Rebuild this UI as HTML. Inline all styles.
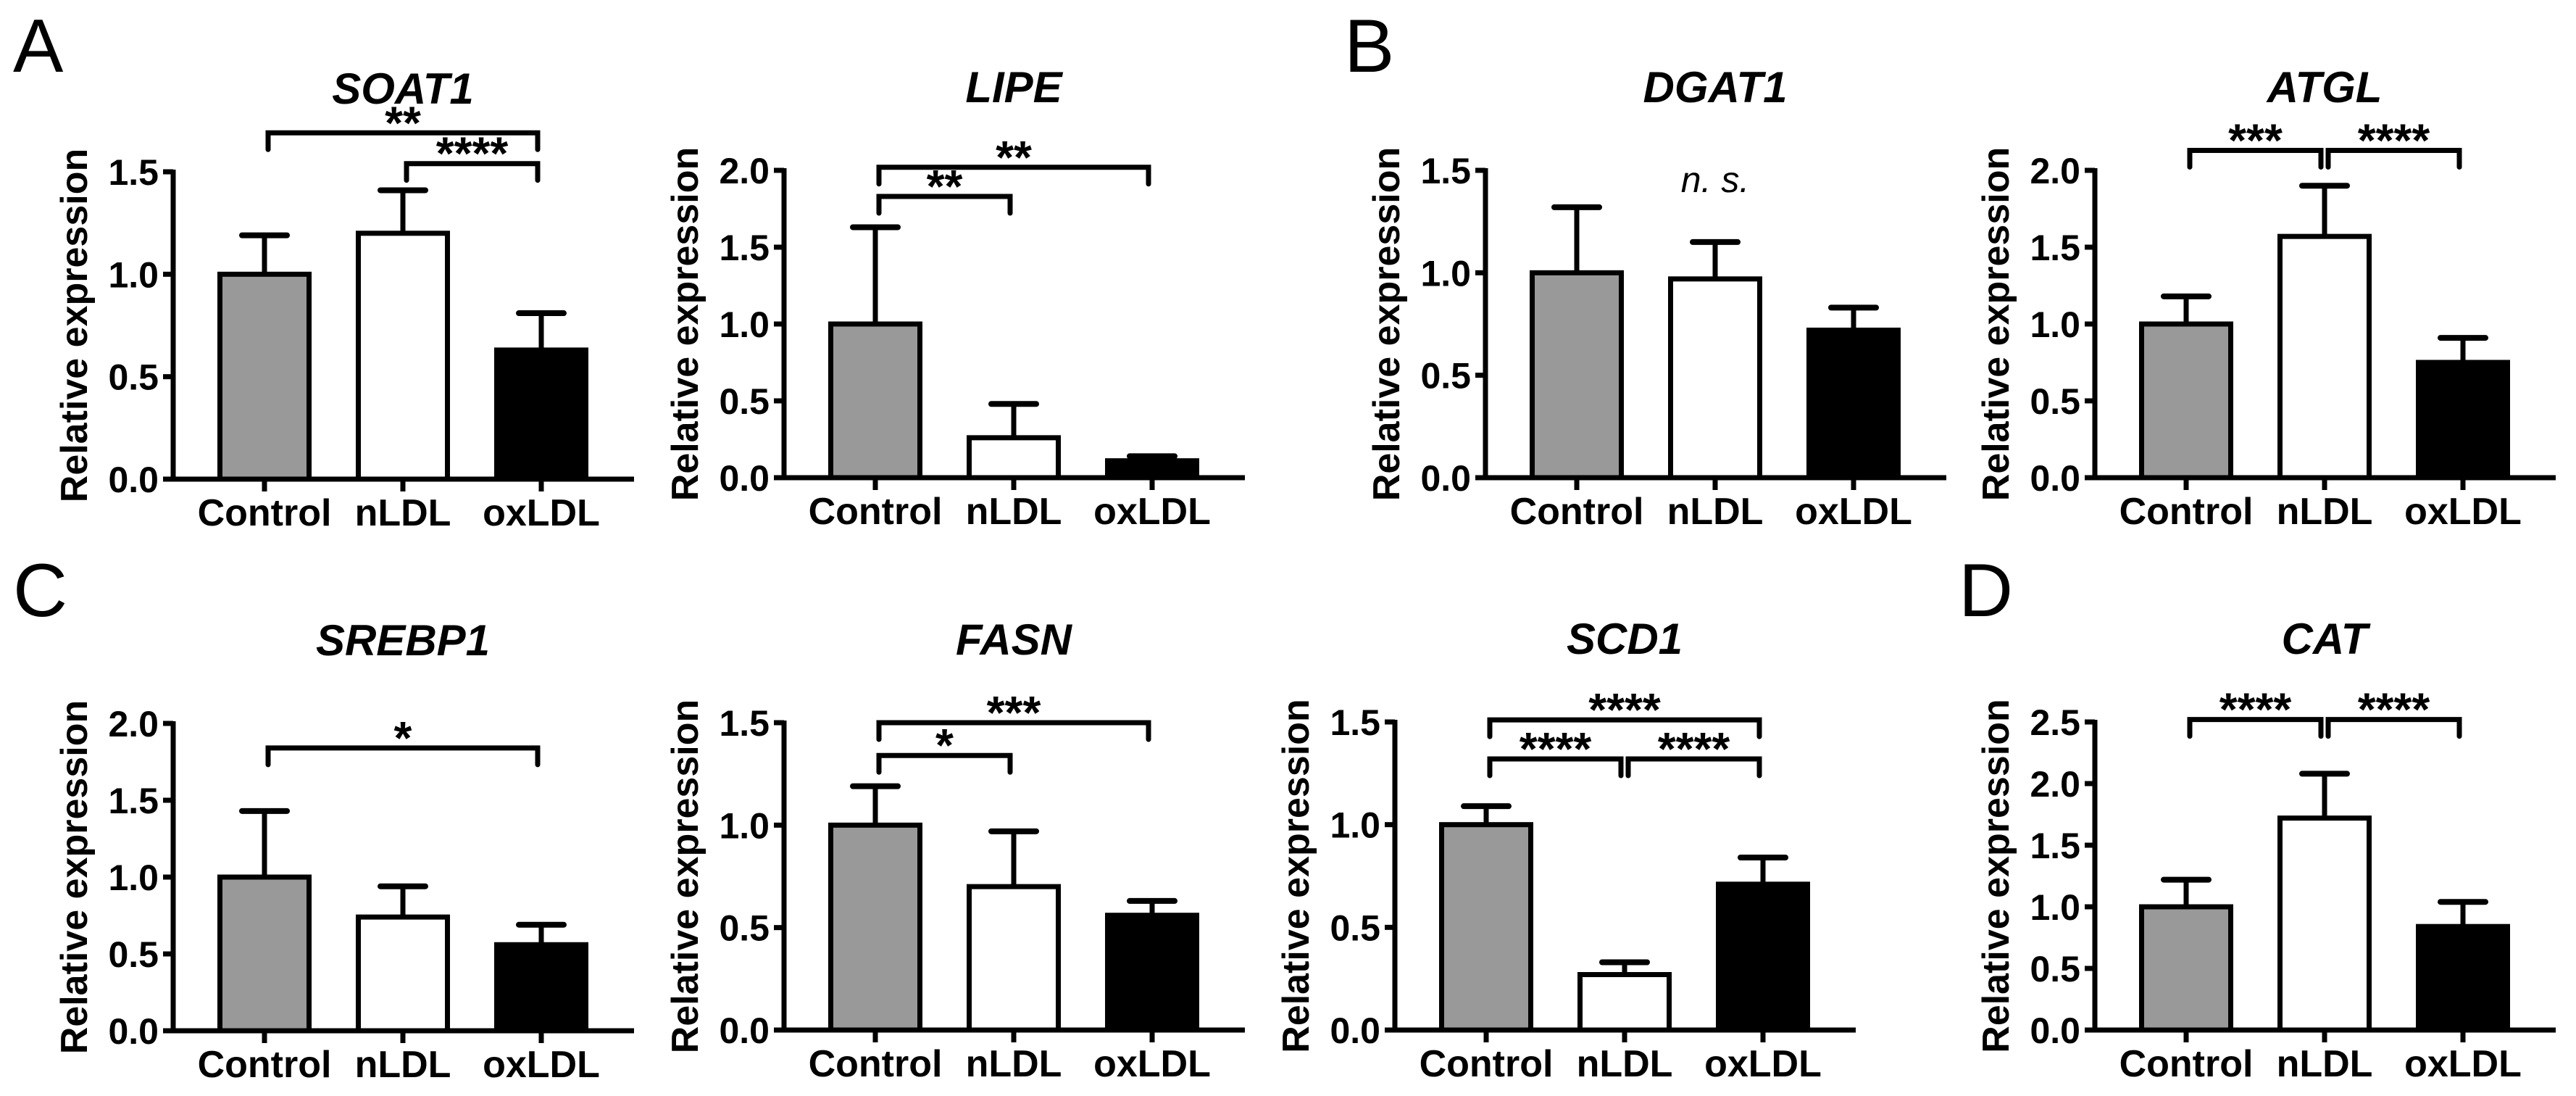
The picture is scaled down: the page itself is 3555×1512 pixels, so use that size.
<!DOCTYPE html>
<html><head><meta charset="utf-8"><style>
html,body{margin:0;padding:0;background:#fff;}
svg{display:block;font-family:"Liberation Sans",Arial,sans-serif;}
</style></head>
<body>
<svg id="fig" width="3555" height="1512" viewBox="0 0 3555 1512" xmlns="http://www.w3.org/2000/svg">
<rect width="3555" height="1512" fill="#fff"/>
<text x="18" y="99" font-size="104">A</text>
<text x="1855" y="99" font-size="104">B</text>
<text x="18" y="850" font-size="104">C</text>
<text x="2703" y="850" font-size="104">D</text>
</svg>
<script>
const categories = ['Control', 'nLDL', 'oxLDL'];
const barFills = ['#999999', '#ffffff', '#000000'];

const soat1Means = [1.0, 1.20, 0.63];
const soat1Errors = [0.19, 0.21, 0.18];
const soat1Ticks = ['0.0', '0.5', '1.0', '1.5'];
const soat1Sig = [[0, 2, 1.69, '**'], [1, 2, 1.54, '****']];

const lipeMeans = [1.0, 0.26, 0.11];
const lipeErrors = [0.63, 0.22, 0.03];
const lipeTicks = ['0.0', '0.5', '1.0', '1.5', '2.0'];
const lipeSig = [[0, 1, 1.83, '**'], [0, 2, 2.02, '**']];

const dgat1Means = [1.0, 0.97, 0.72];
const dgat1Errors = [0.32, 0.18, 0.11];
const dgat1Ticks = ['0.0', '0.5', '1.0', '1.5'];
const dgat1Sig = [];

const atglMeans = [1.0, 1.57, 0.75];
const atglErrors = [0.18, 0.33, 0.16];
const atglTicks = ['0.0', '0.5', '1.0', '1.5', '2.0'];
const atglSig = [[0, 1, 2.13, '***'], [1, 2, 2.13, '****']];

const srebp1Means = [1.0, 0.74, 0.56];
const srebp1Errors = [0.43, 0.20, 0.13];
const srebp1Ticks = ['0.0', '0.5', '1.0', '1.5', '2.0'];
const srebp1Sig = [[0, 2, 1.84, '*']];

const fasnMeans = [1.0, 0.70, 0.56];
const fasnErrors = [0.19, 0.27, 0.07];
const fasnTicks = ['0.0', '0.5', '1.0', '1.5'];
const fasnSig = [[0, 1, 1.34, '*'], [0, 2, 1.50, '***']];

const scd1Means = [1.0, 0.27, 0.71];
const scd1Errors = [0.09, 0.06, 0.13];
const scd1Ticks = ['0.0', '0.5', '1.0', '1.5'];
const scd1Sig = [[0, 2, 1.51, '****'], [0, 1, 1.32, '****'], [1, 2, 1.32, '****']];

const catMeans = [1.0, 1.72, 0.84];
const catErrors = [0.22, 0.36, 0.20];
const catTicks = ['0.0', '0.5', '1.0', '1.5', '2.0', '2.5'];
const catSig = [[0, 1, 2.52, '****'], [1, 2, 2.52, '****']];

const NS = 'http://www.w3.org/2000/svg';
const svg = document.getElementById('fig');
function mk(tag, attrs, parent) {
  const e = document.createElementNS(NS, tag);
  for (const k in attrs) e.setAttribute(k, attrs[k]);
  (parent || svg).appendChild(e);
  return e;
}

function drawPanel(key, title, axisX, base, top, ticks, means, errors, sig, ns) {
  const g = mk('g', {});
  
  
  const maxV = parseFloat(ticks[ticks.length - 1]);
  const yScale = v => base - (v / maxV) * (base - top);
  const xScale = i => axisX + 126 + i * 191;

  const t = mk('text', {x: axisX + 126 + 191, y: top - 94, 'font-size': 60, 'font-weight': 'bold', 'font-style': 'italic', 'text-anchor': 'middle'}, g);
  t.textContent = title;
  
  

  const cy = (top + base) / 2;
  const yt = mk('text', {x: 0, y: 0, 'font-size': 52, 'font-weight': 'bold', 'text-anchor': 'middle', transform: 'translate(' + (axisX - 119) + ',' + cy + ') rotate(-90)'}, g);
  yt.textContent = 'Relative expression';
  
  

  means.forEach((m, i) => {
    const c = xScale(i);
    const yTop = yScale(m);
    const yErr = yScale(m + errors[i]);
    const el = mk('line', {x1: c, x2: c, y1: yTop, y2: yErr, stroke: '#000', 'stroke-width': 7}, g);
    
    
    const cap = mk('line', {x1: c - 31, x2: c + 31, y1: yErr, y2: yErr, stroke: '#000', 'stroke-width': 8, 'stroke-linecap': 'round'}, g);
    
    
    const r = mk('rect', {x: c - 61.5, y: yTop, width: 123, height: Math.max(0, base - yTop), fill: barFills[i], stroke: '#000', 'stroke-width': 7}, g);
    
    
  });

  const ya = mk('line', {x1: axisX, x2: axisX, y1: top - 3, y2: base + 3, stroke: '#000', 'stroke-width': 7}, g);
  
  
  const xa = mk('line', {x1: axisX - 14, x2: axisX + 636, y1: base, y2: base, stroke: '#000', 'stroke-width': 7}, g);
  
  

  ticks.forEach(tk => {
    const y = yScale(parseFloat(tk));
    const tl = mk('line', {x1: axisX - 14, x2: axisX, y1: y, y2: y, stroke: '#000', 'stroke-width': 7}, g);
    
    
    const tx = mk('text', {x: axisX - 20, y: y + 18, 'font-size': 50, 'font-weight': 'bold', 'text-anchor': 'end'}, g);
    tx.textContent = tk;
    
    
  });

  categories.forEach((cat, i) => {
    const c = xScale(i);
    const tl = mk('line', {x1: c, x2: c, y1: base, y2: base + 17, stroke: '#000', 'stroke-width': 7}, g);
    
    
    const tx = mk('text', {x: c, y: base + 64, 'font-size': 52, 'font-weight': 'bold', 'text-anchor': 'middle'}, g);
    tx.textContent = cat;
    
    
  });

  sig.forEach(s => {
    const x1 = xScale(s[0]) + 5, x2 = xScale(s[1]) - 5, y = yScale(s[2]);
    const p = mk('path', {d: 'M' + x1 + ',' + (y + 23) + ' L' + x1 + ',' + y + ' L' + x2 + ',' + y + ' L' + x2 + ',' + (y + 23), fill: 'none', stroke: '#000', 'stroke-width': 7, 'stroke-linejoin': 'miter', 'stroke-linecap': 'round'}, g);
    
    
    const st = mk('text', {x: (x1 + x2) / 2, y: y + 8, 'font-size': 64, 'font-weight': 'bold', 'text-anchor': 'middle'}, g);
    st.textContent = s[3];
    
    
  });

  if (ns) {
    const n = mk('text', {x: xScale(1), y: top + 30, 'font-size': 50, 'font-style': 'italic', 'text-anchor': 'middle'}, g);
    n.textContent = 'n. s.';
    
    
  }
}

drawPanel('soat1', 'SOAT1', 239, 661, 237, soat1Ticks, soat1Means, soat1Errors, soat1Sig, false);
drawPanel('lipe', 'LIPE', 1082, 659, 235, lipeTicks, lipeMeans, lipeErrors, lipeSig, false);
drawPanel('dgat1', 'DGAT1', 2050, 659, 235, dgat1Ticks, dgat1Means, dgat1Errors, dgat1Sig, true);
drawPanel('atgl', 'ATGL', 2891, 659, 235, atglTicks, atglMeans, atglErrors, atglSig, false);
drawPanel('srebp1', 'SREBP1', 239, 1422, 998, srebp1Ticks, srebp1Means, srebp1Errors, srebp1Sig, false);
drawPanel('fasn', 'FASN', 1082, 1421, 997, fasnTicks, fasnMeans, fasnErrors, fasnSig, false);
drawPanel('scd1', 'SCD1', 1925, 1421, 996, scd1Ticks, scd1Means, scd1Errors, scd1Sig, false);
drawPanel('cat', 'CAT', 2891, 1421, 996, catTicks, catMeans, catErrors, catSig, false);
</script>
</body></html>
